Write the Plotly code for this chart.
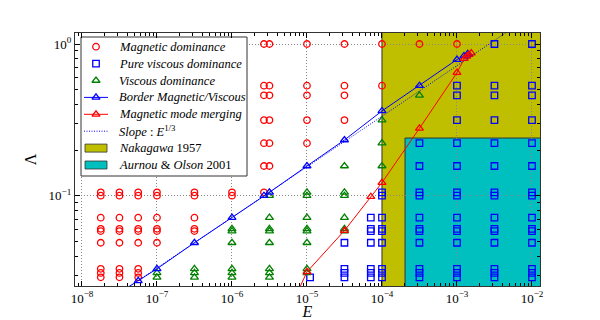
import plotly.graph_objects as go

# Columns of the run grid: (Ekman number, [Lambda values])
MAG_COLS = [
    (1.78e-8, [0.1053, 0.1, 0.0717, 0.0605, 0.0585, 0.049, 0.033, 0.031, 0.029]),
    (3.16e-8, [0.1053, 0.1, 0.0717, 0.0605, 0.0585, 0.049, 0.033, 0.031, 0.029]),
    (5.62e-8, [0.1053, 0.1, 0.0717, 0.0605, 0.0585, 0.049, 0.033, 0.031, 0.029]),
    (1e-7, [0.1053, 0.1, 0.0717, 0.0605, 0.0585, 0.049]),
    (3.16e-7, [0.1053, 0.1, 0.0717, 0.0605, 0.0585]),
    (1e-6, [0.1053, 0.1]),
    (2.67e-6, [1.0, 0.531, 0.459, 0.315, 0.222, 0.157, 0.1053]),
    (3.16e-6, [1.0, 0.531, 0.459, 0.315, 0.222, 0.157]),
    (1e-5, [1.0, 0.531, 0.459, 0.315, 0.222]),
    (3.16e-5, [1.0, 0.531, 0.459, 0.315]),
    (1e-4, [1.0, 0.531]),
    (3.16e-4, [1.0]),
    (1e-3, [1.0]),
]

PURE_COLS = [
    (1.1e-5, [0.029]),
    (3.16e-5, [0.049, 0.033, 0.031, 0.029]),
    (7.1e-5, [0.0717, 0.0605, 0.0585, 0.049, 0.033, 0.031, 0.029]),
    (1e-4, [0.1053, 0.1, 0.0717, 0.0605, 0.0585, 0.049, 0.033, 0.031, 0.029]),
    (3.16e-4, [0.222, 0.157, 0.1053, 0.1, 0.0717, 0.0605, 0.0585, 0.049, 0.033, 0.031, 0.029]),
    (1e-3, [0.531, 0.459, 0.315, 0.222, 0.157, 0.1053, 0.1, 0.0717, 0.0605, 0.0585, 0.049,
            0.033, 0.031, 0.029]),
    (3.16e-3, [1.0, 0.531, 0.459, 0.315, 0.222, 0.157, 0.1053, 0.1, 0.0717, 0.0605, 0.0585,
               0.049, 0.033, 0.031, 0.029]),
    (1e-2, [1.0, 0.531, 0.459, 0.315, 0.222, 0.157, 0.1053, 0.1, 0.0717, 0.0605, 0.0585,
            0.049, 0.033, 0.031, 0.029]),
]

VISC_COLS = [
    (1e-7, [0.031, 0.029]),
    (3.16e-7, [0.033, 0.031, 0.029]),
    (1e-6, [0.0605, 0.0585, 0.049, 0.033, 0.031, 0.029]),
    (3.16e-6, [0.1, 0.0717, 0.0605, 0.0585, 0.049, 0.033, 0.031, 0.029]),
    (1e-5, [0.1053, 0.1, 0.0717, 0.0605, 0.0585, 0.049, 0.033, 0.031]),
    (3.16e-5, [0.157, 0.1053, 0.1, 0.0717, 0.0605, 0.0585]),
    (1e-4, [0.315, 0.222, 0.157]),
    (3.16e-4, [0.459]),
]

BORDER_E = [3.16e-8, 5.62e-8, 1e-7, 3.16e-7, 1e-6, 2.67e-6, 3.16e-6, 1e-5, 3.16e-5, 1e-4,
            3.16e-4, 1e-3, 1.24e-3, 1.39e-3]
BORDER_L = [0.023, 0.0275, 0.033, 0.049, 0.0717, 0.1, 0.1053, 0.157, 0.233, 0.362,
            0.531, 0.79, 0.834, 0.86]

MERGE_E = [5e-6, 1e-5, 3.16e-5, 7.1e-5, 1e-4, 3.16e-4, 1e-3, 1.25e-3, 1.35e-3, 1.45e-3, 1.55e-3]
MERGE_L = [0.015, 0.0315, 0.0589, 0.0985, 0.122, 0.278, 0.647, 0.80, 0.83, 0.85, 0.87]

SLOPE_E = [1e-8, 1e-2]
SLOPE_L = [0.0155, 1.55]

# shaded regions: (E_min, Lambda_max)
NAKAGAWA = (1e-4, 10.0)
AURNOU = (2.03e-4, 0.24)

LEGEND_LABELS = [
    "<i>Magnetic dominance</i>",
    "<i>Pure viscous dominance</i>",
    "<i>Viscous dominance</i>",
    "<i>Border Magnetic/Viscous</i>",
    "<i>Magnetic mode merging</i>",
    "<i>Slope</i> : <i>E</i><sup>1/3</sup>",
    "<i>Nakagawa</i> 1957",
    "<i>Aurnou</i> & <i>Olson</i> 2001",
]

FONT = "Liberation Serif"
OLIVE = "#bfbf00"
CYAN = "#00bfbf"

# the page body has an 8px margin, so the figure is a bit smaller than the window
W, H = 592, 312
ML, MR, MT, MB = 67, 60, 25, 34
PW, PH = W - ML - MR, H - MT - MB


def fx(px):
    # window pixel -> fraction of the plot area
    return (px - 8 - ML) / PW


def fy(py):
    return (H - MB - (py - 8)) / PH


def expand(cols):
    xs, ys = [], []
    for e, ls in cols:
        for l in ls:
            xs.append(e)
            ys.append(l)
    return xs, ys


mk_mag = dict(symbol="circle-open", size=6.5, color="red", line=dict(width=1.3))
mk_pure = dict(symbol="square-open", size=6.5, color="blue", line=dict(width=1.3))
mk_visc = dict(symbol="triangle-up-open", size=7, color="green", line=dict(width=1.3))
mk_border = dict(symbol="triangle-up-open", size=7, color="blue", line=dict(width=1.3))
mk_merge = dict(symbol="triangle-up-open", size=7, color="red", line=dict(width=1.3))

fig = go.Figure()

mx, my = expand(MAG_COLS)
px_, py_ = expand(PURE_COLS)
vx, vy = expand(VISC_COLS)

fig.add_trace(go.Scatter(x=mx, y=my, mode="markers", marker=mk_mag))
fig.add_trace(go.Scatter(x=px_, y=py_, mode="markers", marker=mk_pure))
fig.add_trace(go.Scatter(x=vx, y=vy, mode="markers", marker=mk_visc))
fig.add_trace(go.Scatter(x=BORDER_E, y=BORDER_L, mode="lines+markers",
                         line=dict(color="blue", width=1), marker=mk_border))
fig.add_trace(go.Scatter(x=MERGE_E, y=MERGE_L, mode="lines+markers",
                         line=dict(color="red", width=1), marker=mk_merge))
fig.add_trace(go.Scatter(x=SLOPE_E, y=SLOPE_L, mode="lines",
                         line=dict(color="blue", width=1, dash="1px,1.5px")))

fig.add_shape(type="rect", xref="x", yref="y", x0=NAKAGAWA[0], x1=1, y0=1e-3, y1=NAKAGAWA[1],
              fillcolor=OLIVE, line=dict(color="#333", width=1), layer="below")
fig.add_shape(type="rect", xref="x", yref="y", x0=AURNOU[0], x1=1, y0=1e-3, y1=AURNOU[1],
              fillcolor=CYAN, line=dict(color="#333", width=1), layer="below")

# hand-drawn legend (matplotlib-like spacing) on an overlay axis in plot fractions
lx0, lx1, ly0, ly1 = fx(81), fx(247), fy(37), fy(176)
ov = dict(xaxis="x2", yaxis="y2", showlegend=False, hoverinfo="skip")
fig.add_trace(go.Scatter(x=[lx0, lx1, lx1, lx0, lx0], y=[ly0, ly0, ly1, ly1, ly0], mode="lines",
                         fill="toself", fillcolor="white", line=dict(color="#333", width=1), **ov))

rows = [fy(46.7 + 16.9 * i) for i in range(len(LEGEND_LABELS))]
sx0, sxm, sx1 = fx(84), fx(96), fx(108)
for r, mk in zip(rows[:3], [mk_mag, mk_pure, mk_visc]):
    fig.add_trace(go.Scatter(x=[sxm], y=[r], mode="markers", marker=mk, **ov))
for r, mk, c in [(rows[3], mk_border, "blue"), (rows[4], mk_merge, "red")]:
    fig.add_trace(go.Scatter(x=[sx0, sx1], y=[r, r], mode="lines", line=dict(color=c, width=1), **ov))
    fig.add_trace(go.Scatter(x=[sxm], y=[r], mode="markers", marker=mk, **ov))
fig.add_trace(go.Scatter(x=[sx0, sx1], y=[rows[5], rows[5]], mode="lines",
                         line=dict(color="blue", width=1, dash="1px,1.5px"), **ov))
hh = 4 / PH
for r, col in [(rows[6], OLIVE), (rows[7], CYAN)]:
    fig.add_trace(go.Scatter(x=[fx(85), fx(107), fx(107), fx(85), fx(85)],
                             y=[r - hh, r - hh, r + hh, r + hh, r - hh], mode="lines", fill="toself",
                             fillcolor=col, line=dict(color="#333", width=0.8), **ov))
for r, lab in zip(rows, LEGEND_LABELS):
    fig.add_annotation(x=fx(117), y=r, xref="paper", yref="paper", text=lab, showarrow=False,
                       xanchor="left", yanchor="middle", font=dict(family=FONT, size=12.5, color="black"))

xt = [10.0 ** k for k in range(-8, -1)]
xlab = ["10<sup>−%d</sup>" % (-k) for k in range(-8, -1)]
xminor = [m * 10.0 ** k for k in range(-9, -1) for m in range(2, 10)]
yminor = [m * 10.0 ** k for k in range(-2, 1) for m in range(2, 10)]

axis_common = dict(
    type="log", showline=True, linecolor="#333", linewidth=1.2, mirror="allticks",
    ticks="inside", ticklen=5, tickcolor="black", automargin=False,
    showgrid=True, gridcolor="#888", griddash="1px,2px", gridwidth=1, zeroline=False,
    tickfont=dict(family=FONT, size=13, color="black"),
)

fig.update_xaxes(range=[-8.093, -1.893], tickvals=xt, ticktext=xlab,
                 minor=dict(tickvals=xminor, ticks="inside", ticklen=2.5, tickcolor="black", showgrid=False),
                 title=dict(text="<i>E</i>", font=dict(family=FONT, size=16, color="black"), standoff=0),
                 **axis_common)
fig.update_yaxes(range=[-1.595, 0.0725], tickvals=[0.1, 1.0], ticktext=["10<sup>−1</sup>", "10<sup>0</sup>"],
                 minor=dict(tickvals=yminor, ticks="inside", ticklen=2.5, tickcolor="black", showgrid=False),
                 title=dict(text="Λ", font=dict(family=FONT, size=16, color="black"), standoff=8),
                 **axis_common)

fig.update_layout(
    width=W, height=H,
    margin=dict(l=ML, r=MR, t=MT, b=MB),
    paper_bgcolor="white", plot_bgcolor="white",
    font=dict(family=FONT, size=12, color="black"),
    showlegend=False,
    xaxis2=dict(overlaying="x", range=[0, 1], visible=False, fixedrange=True),
    yaxis2=dict(overlaying="y", range=[0, 1], visible=False, fixedrange=True),
)

fig.write_html("out.html")
